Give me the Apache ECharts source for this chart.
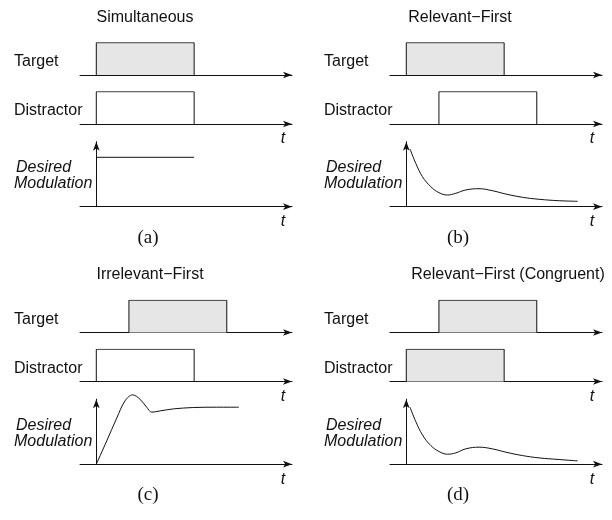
<!DOCTYPE html>
<html>
<head>
<meta charset="utf-8">
<script src="https://cdn.jsdelivr.net/npm/echarts@6/dist/echarts.min.js"></script>
<style>html,body{margin:0;padding:0;background:#fff;}#c{width:612px;height:520px;}</style>
</head>
<body>
<div id="c"></div>
<script>
// ---- data ----
const panelTitles = ['Simultaneous', 'Relevant\u2212First', 'Irrelevant\u2212First', 'Relevant\u2212First (Congruent)'];
const panelLetters = ['(a)', '(b)', '(c)', '(d)'];
const rowLabels = ['Target', 'Distractor'];
const modLabel = ['Desired', 'Modulation'];
const axisLabel = 't';
// stimulus on/off times (onset of first stimulus = 0)
const targetOn = [[0, 6], [0, 6], [2, 8], [2, 8]];
const distractorOn = [[0, 6], [2, 8], [0, 6], [0, 6]];
const targetFilled = [true, true, true, true];
const distractorFilled = [false, false, false, true];
// desired modulation curves [t, value]
const modA = [[0, 0.76], [6, 0.76]];
const modB = [[0.23, 0.888], [0.58, 0.667], [0.99, 0.462], [1.50, 0.308], [2.01, 0.215], [2.52, 0.18], [3.03, 0.206], [3.64, 0.257], [4.46, 0.277], [5.28, 0.246], [6.10, 0.195], [7.12, 0.145], [8.14, 0.114], [9.37, 0.092], [10.5, 0.083]];
const modC = [[0, 0], [0.64, 0.359], [1.25, 0.708], [1.76, 0.974], [2.23, 1.067], [2.68, 1.0], [3.09, 0.877], [3.40, 0.8], [3.91, 0.82], [4.73, 0.851], [5.95, 0.872], [7.38, 0.877], [8.74, 0.877]];
const modD = [[0.23, 0.877], [0.58, 0.656], [0.99, 0.451], [1.50, 0.287], [2.01, 0.195], [2.52, 0.154], [3.03, 0.174], [3.64, 0.236], [4.46, 0.262], [5.28, 0.236], [6.10, 0.185], [7.12, 0.133], [8.14, 0.097], [9.37, 0.072], [10.5, 0.051]];
const modCurves = [modA, modB, modC, modD];
const modSmooth = [false, 0.4, 0.35, 0.4];

// ---- layout ----
const colLeft = [80, 390];
const colLabelX = [14, 324];
const colTX = [283, 592];
const colCenter = [148, 458];
const halfTop = [0, 257.5];
const gridW = 212;
const rowTop = [42.7, 91.7, 141.7];
const rowH = [32.3, 32.3, 65];

const SANS = 'Liberation Sans, Arial, sans-serif';
const SERIF = 'Liberation Serif, Times New Roman, serif';
const INK = '#111';

const grids = [], xAxes = [], yAxes = [], series = [], graphics = [];

function rect(on) {
  return [[on[0], 0], [on[0], 1], [on[1], 1], [on[1], 0]];
}

for (let p = 0; p < 4; p++) {
  const col = p % 2, half = Math.floor(p / 2);
  const dy = halfTop[half];
  for (let r = 0; r < 3; r++) {
    const gi = p * 3 + r;
    grids.push({ left: colLeft[col], top: rowTop[r] + dy, width: gridW, height: rowH[r] });
    xAxes.push({
      gridIndex: gi, type: 'value', min: -1, max: 12,
      axisLine: { show: true, onZero: false, symbol: ['none', 'arrow'], symbolSize: [5, 9], lineStyle: { color: INK, width: 1 } },
      axisTick: { show: false }, axisLabel: { show: false }, splitLine: { show: false }
    });
    yAxes.push({
      gridIndex: gi, type: 'value', min: 0, max: 1, show: r === 2,
      axisLine: { show: r === 2, onZero: true, symbol: ['none', 'arrow'], symbolSize: [5, 9], lineStyle: { color: INK, width: 1 } },
      axisTick: { show: false }, axisLabel: { show: false }, splitLine: { show: false }
    });
    if (r < 2) {
      const on = r === 0 ? targetOn[p] : distractorOn[p];
      const filled = r === 0 ? targetFilled[p] : distractorFilled[p];
      series.push({
        type: 'line', xAxisIndex: gi, yAxisIndex: gi, data: rect(on),
        showSymbol: false, silent: true, z: 1,
        lineStyle: { color: INK, width: 1 },
        areaStyle: filled ? { color: '#e6e6e6', opacity: 1 } : undefined
      });
      graphics.push({ type: 'text', x: colLabelX[col], y: rowTop[r] + dy + 19, style: { text: rowLabels[r], font: '16px ' + SANS, fill: INK, textVerticalAlign: 'middle' } });
    } else {
      series.push({
        type: 'line', xAxisIndex: gi, yAxisIndex: gi, data: modCurves[p],
        smooth: modSmooth[p], showSymbol: false, silent: true, clip: false,
        lineStyle: { color: INK, width: 1 }
      });
      graphics.push({ type: 'text', x: colLabelX[col] + 2, y: 168 + dy, style: { text: modLabel[0], font: 'italic 16px ' + SANS, fill: INK, textVerticalAlign: 'middle' } });
      graphics.push({ type: 'text', x: colLabelX[col], y: 184 + dy, style: { text: modLabel[1], font: 'italic 16px ' + SANS, fill: INK, textVerticalAlign: 'middle' } });
    }
  }
  graphics.push({ type: 'text', x: colTX[col], y: 139 + dy, style: { text: axisLabel, font: 'italic 16px ' + SANS, fill: INK, textAlign: 'center', textVerticalAlign: 'middle' } });
  graphics.push({ type: 'text', x: colTX[col], y: 222 + dy, style: { text: axisLabel, font: 'italic 16px ' + SANS, fill: INK, textAlign: 'center', textVerticalAlign: 'middle' } });
  graphics.push({ type: 'text', x: colCenter[col] + (p === 3 ? 50 : (p === 0 ? -3 : 2)), y: (half ? 275 : 18), style: { text: panelTitles[p], font: '16px ' + SANS, fill: INK, textAlign: 'center', textVerticalAlign: 'middle' } });
  graphics.push({ type: 'text', x: colCenter[col], y: (half ? 495 : 238), style: { text: panelLetters[p], font: '19px ' + SERIF, fill: INK, textAlign: 'center', textVerticalAlign: 'middle' } });
}

const chart = echarts.init(document.getElementById('c'), null, { renderer: 'canvas' });
chart.setOption({
  animation: false,
  backgroundColor: '#fff',
  grid: grids, xAxis: xAxes, yAxis: yAxes, series: series,
  graphic: { elements: graphics }
});
</script>
</body>
</html>
